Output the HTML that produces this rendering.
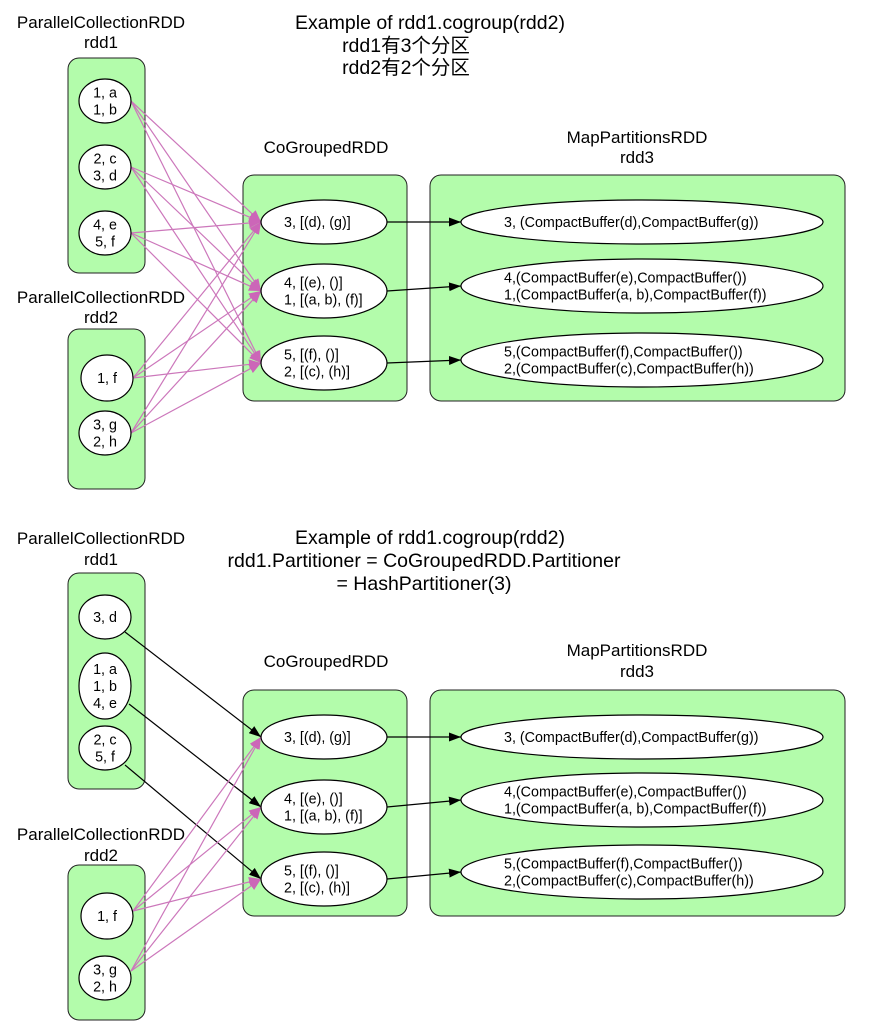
<!DOCTYPE html>
<html><head><meta charset="utf-8"><style>
html,body{margin:0;padding:0;background:#fff;}
svg{display:block;}
text{font-family:"Liberation Sans","Noto Sans CJK SC",sans-serif;fill:#000;}
.l{font-size:17px;text-anchor:middle;}
.t{font-size:19.5px;text-anchor:middle;}
.n{font-size:14.3px;text-anchor:middle;}
.b{fill:#b3fcab;stroke:#222;stroke-width:1;}
.e{fill:#fff;stroke:#000;stroke-width:1.2;}
</style></head><body>
<svg id="s" width="870" height="1030" viewBox="0 0 870 1030" xmlns="http://www.w3.org/2000/svg">
<defs>
<marker id="pa" markerWidth="12" markerHeight="10" refX="12" refY="5" orient="auto" markerUnits="userSpaceOnUse"><path d="M0,0 L12,5 L0,10 z" fill="#cc66b8"/></marker>
<marker id="ba" markerWidth="12" markerHeight="9" refX="12" refY="4.5" orient="auto" markerUnits="userSpaceOnUse"><path d="M0,0 L12,4.5 L0,9 z" fill="#000"/></marker>
</defs>
<!-- TOP -->
<text class="t" x="430" y="29">Example of rdd1.cogroup(rdd2)</text>
<text class="t" x="406" y="52">rdd1有3个分区</text>
<text class="t" x="406" y="74">rdd2有2个分区</text>
<text class="l" x="101" y="28">ParallelCollectionRDD</text>
<text class="l" x="101" y="48">rdd1</text>
<text class="l" x="101" y="303">ParallelCollectionRDD</text>
<text class="l" x="101" y="323">rdd2</text>
<text class="l" x="326" y="153">CoGroupedRDD</text>
<text class="l" x="637" y="143">MapPartitionsRDD</text>
<text class="l" x="637" y="163">rdd3</text>
<rect class="b" x="68" y="58" width="77" height="215" rx="11"/>
<rect class="b" x="68" y="329" width="77" height="160" rx="11"/>
<rect class="b" x="243" y="175" width="164" height="226" rx="11"/>
<rect class="b" x="430" y="175" width="415" height="226" rx="11"/>
<!-- BOTTOM -->
<text class="t" x="430" y="544">Example of rdd1.cogroup(rdd2)</text>
<text class="t" x="424" y="567">rdd1.Partitioner = CoGroupedRDD.Partitioner</text>
<text class="t" x="424" y="590">= HashPartitioner(3)</text>
<text class="l" x="101" y="544">ParallelCollectionRDD</text>
<text class="l" x="101" y="565">rdd1</text>
<text class="l" x="101" y="840">ParallelCollectionRDD</text>
<text class="l" x="101" y="861">rdd2</text>
<text class="l" x="326" y="667">CoGroupedRDD</text>
<text class="l" x="637" y="656">MapPartitionsRDD</text>
<text class="l" x="637" y="677">rdd3</text>
<rect class="b" x="68" y="573" width="77" height="216" rx="11"/>
<rect class="b" x="68" y="865" width="77" height="155" rx="11"/>
<rect class="b" x="243" y="690" width="164" height="226" rx="11"/>
<rect class="b" x="430" y="690" width="415" height="226" rx="11"/>
<g id="edges"></g>
<g id="topn"></g>
<g id="botn"></g>
</svg>
<script>
var NS="http://www.w3.org/2000/svg";
function el(p,t,a,txt){var e=document.createElementNS(NS,t);for(var k in a)e.setAttribute(k,a[k]);if(txt!==undefined)e.textContent=txt;p.appendChild(e);return e;}
function node(g,cx,cy,rx,ry,lines,anchor,tx){
 el(g,"ellipse",{cx:cx,cy:cy,rx:rx,ry:ry,"class":"e"});
 var lh=17,y0=cy-(lines.length-1)*lh/2+5;
 lines.forEach(function(s,i){var a={x:tx||cx,y:y0+i*lh,"class":"n"};if(anchor)a.style="text-anchor:start";el(g,"text",a,s);});
}
var E=document.getElementById("edges");
function line(x1,y1,x2,y2,pink){el(E,"line",{x1:x1,y1:y1,x2:x2,y2:y2,stroke:pink?"#cc77bb":"#000","stroke-width":1.2,"marker-end":pink?"url(#pa)":"url(#ba)"});}
// TOP
var T=document.getElementById("topn");
var src1=[[131,101],[131,167],[131,233]],src2=[[133,378],[131,433]];
var cg=[[261,222],[261,291],[261,363]];
src1.concat(src2).forEach(function(s){cg.forEach(function(c){line(s[0],s[1],c[0],c[1],true);});});
[[222,222],[291,286],[363,360]].forEach(function(p){line(387,p[0],461,p[1],false);});
node(T,105,101,26,22,["1, a","1, b"]);
node(T,105,167,26,22,["2, c","3, d"]);
node(T,105,233,26,22,["4, e","5, f"]);
node(T,107,378,26,23,["1, f"]);
node(T,105,433,26,22,["3, g","2, h"]);
node(T,324,222,63,22,["3, [(d), (g)]"],true,284);
node(T,324,291,63,27,["4, [(e), ()]","1, [(a, b), (f)]"],true,284);
node(T,324,363,63,27,["5, [(f), ()]","2, [(c), (h)]"],true,284);
node(T,642,222,181,22,["3, (CompactBuffer(d),CompactBuffer(g))"],true,504);
node(T,642,286,181,27,["4,(CompactBuffer(e),CompactBuffer())","1,(CompactBuffer(a, b),CompactBuffer(f))"],true,504);
node(T,642,360,181,27,["5,(CompactBuffer(f),CompactBuffer())","2,(CompactBuffer(c),CompactBuffer(h))"],true,504);
// BOTTOM
var B=document.getElementById("botn");
var cg2=[[261,737],[261,807],[261,879]];
line(125,632,261,737,false);line(129,704,261,807,false);line(125,765,261,879,false);
[[133,911],[131,971]].forEach(function(s){cg2.forEach(function(c){line(s[0],s[1],c[0],c[1],true);});});
[[737,737],[807,800],[879,872]].forEach(function(p){line(387,p[0],461,p[1],false);});
node(B,105,617,26,22,["3, d"]);
node(B,105,686,26,33,["1, a","1, b","4, e"]);
node(B,105,748,26,22,["2, c","5, f"]);
node(B,107,916,26,23,["1, f"]);
node(B,105,978,26,22,["3, g","2, h"]);
node(B,324,737,63,22,["3, [(d), (g)]"],true,284);
node(B,324,807,63,27,["4, [(e), ()]","1, [(a, b), (f)]"],true,284);
node(B,324,879,63,27,["5, [(f), ()]","2, [(c), (h)]"],true,284);
node(B,642,737,181,22,["3, (CompactBuffer(d),CompactBuffer(g))"],true,504);
node(B,642,800,181,27,["4,(CompactBuffer(e),CompactBuffer())","1,(CompactBuffer(a, b),CompactBuffer(f))"],true,504);
node(B,642,872,181,27,["5,(CompactBuffer(f),CompactBuffer())","2,(CompactBuffer(c),CompactBuffer(h))"],true,504);
</script>
</body></html>
